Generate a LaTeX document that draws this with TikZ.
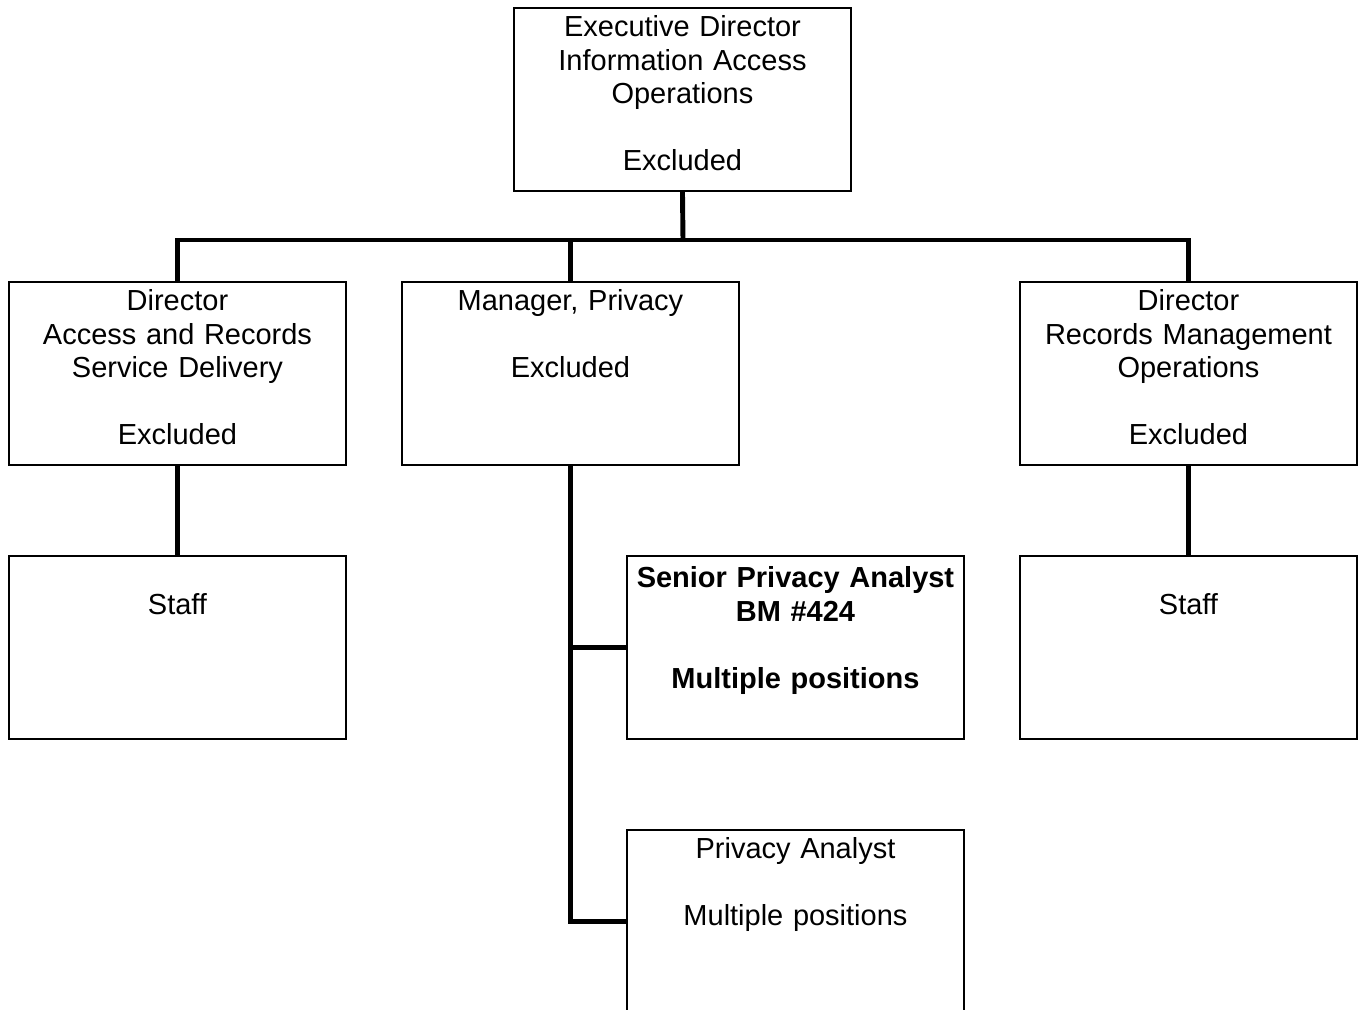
\documentclass[tikz,border=0pt]{standalone}
\usepackage{fontspec}
\setmainfont{Liberation Sans}
\usetikzlibrary{positioning}

\tikzset{
  box/.style={draw, line width=0.8pt, inner sep=0pt, outer sep=0pt,
    text width=6.74cm, align=center, text height=0.58cm, text depth=3.08cm,
    font=\fontsize{16.5}{19}\selectfont},
  boldbox/.style={box, text height=0.64cm, text depth=3.02cm,
    font=\fontsize{16.5}{19}\selectfont\bfseries},
  staffbox/.style={box, text height=0.50cm, text depth=3.16cm},
  link/.style={line width=2.8pt}
}

\begin{document}
\begin{tikzpicture}[x=0.02cm, y=-0.02cm]
        \useasboundingbox (0,0) rectangle (1360,1010);
        \clip (0,0) rectangle (1360,1010);

        % Top
        \node[box, anchor=north west] (exec) at (514,8)
          {Executive Director\\Information Access\\Operations\\[19pt]Excluded};

        % Second row
        \node[box, anchor=north west] (acc) at (9,282)
          {Director\\Access and Records\\Service Delivery\\[19pt]Excluded};
        \node[box, anchor=north west] (priv) at (402,282)
          {Manager, Privacy\\[19pt]Excluded};
        \node[box, anchor=north west] (rec) at (1020,282)
          {Director\\Records Management\\Operations\\[19pt]Excluded};

        % Third row
        \node[staffbox, anchor=north west] (accStaff) at (9,556) {\mbox{}\\Staff};
        \node[boldbox, anchor=north west] (spa) at (627,556)
          {Senior Privacy Analyst\\BM \#424\\[19pt]Multiple positions};
        \node[staffbox, anchor=north west] (recStaff) at (1020,556) {\mbox{}\\Staff};

        % Bottom
        \node[box, anchor=north west] (pa) at (627,830)
          {Privacy Analyst\\[19pt]Multiple positions};

        % Lines
        \coordinate (bus) at (683,240);
        \draw[link] (exec.south) -- (bus);
        \draw[link] (acc.north) |- (bus) -| (rec.north);
        \draw[link] (priv.north) -- (priv.north |- bus);
        \draw[link] (acc.south) -- (accStaff.north);
        \draw[link] (rec.south) -- (recStaff.north);
        \draw[link] (priv.south) |- (pa.west);
        \draw[link] (spa.west) -- (spa.west -| priv.south);
    \end{tikzpicture}
\end{document}
